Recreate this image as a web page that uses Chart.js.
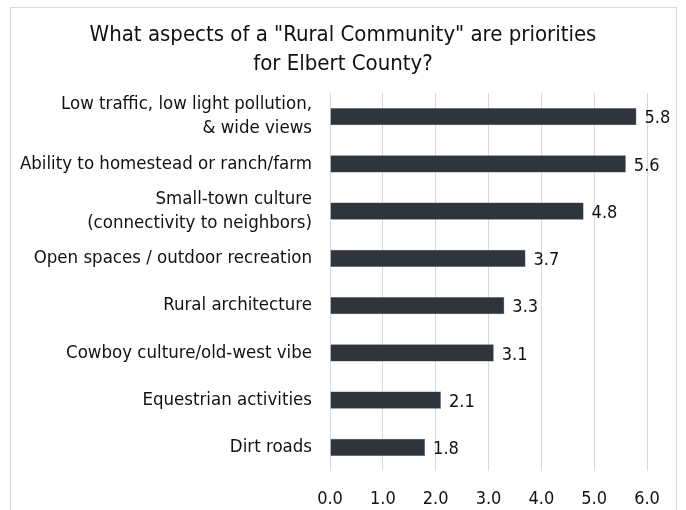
<!DOCTYPE html>
<html>
<head>
<meta charset="utf-8">
<script src="https://cdn.jsdelivr.net/npm/chart.js@4"></script>
<style>
  html,body{margin:0;padding:0;background:#fff;}
  #wrap{width:686px;height:510px;position:relative;}
</style>
</head>
<body>
<div id="wrap"><canvas id="chart" width="686" height="510"></canvas></div>
<script>
const titleLines = ['What aspects of a "Rural Community" are priorities', 'for Elbert County?'];
const categories = [
  ['Low traffic, low light pollution,', '& wide views'],
  'Ability to homestead or ranch/farm',
  ['Small-town culture', '(connectivity to neighbors)'],
  'Open spaces / outdoor recreation',
  'Rural architecture',
  'Cowboy culture/old-west vibe',
  'Equestrian activities',
  'Dirt roads'
];
const scores = [5.8, 5.6, 4.8, 3.7, 3.3, 3.1, 2.1, 1.8];
const xTicks = [0, 1, 2, 3, 4, 5, 6];

const FONT = '"DejaVu Sans Condensed", "DejaVu Sans", sans-serif';
const BAR = '#2f353b';

// light frame around the whole graphic
const frame = {
  id: 'frame',
  beforeDraw(chart){
    const c = chart.ctx;
    c.save();
    c.fillStyle = '#fff';
    c.fillRect(0, 0, chart.width, chart.height);
    c.strokeStyle = '#d9d9d9';
    c.lineWidth = 1;
    c.strokeRect(10.5, 7.5, 666, 520);
    c.restore();
  }
};

// two-line heading, centred on the whole canvas rather than the plot
const heading = {
  id: 'heading',
  afterDraw(chart){
    const c = chart.ctx;
    c.save();
    c.font = '22px ' + FONT;
    c.fillStyle = '#111';
    c.textAlign = 'center';
    c.textBaseline = 'middle';
    titleLines.forEach((t, i) => c.fillText(t, chart.width / 2, 35 + i * 29));
    c.restore();
  }
};

// value text at the end of each bar
const valueLabels = {
  id: 'valueLabels',
  afterDatasetsDraw(chart){
    const c = chart.ctx;
    const meta = chart.getDatasetMeta(0);
    c.save();
    c.font = '18px ' + FONT;
    c.fillStyle = '#111';
    c.textAlign = 'left';
    c.textBaseline = 'middle';
    meta.data.forEach((bar, i) => {
      c.fillText(scores[i].toFixed(1), bar.x + 8, bar.y + 2);
    });
    c.restore();
  }
};

new Chart(document.getElementById('chart'), {
  type: 'bar',
  data: {
    labels: categories,
    datasets: [{
      data: scores,
      backgroundColor: BAR,
      borderColor: '#5a6066',
      borderWidth: 0.5,
      barPercentage: 0.36,
      categoryPercentage: 1
    }]
  },
  options: {
    indexAxis: 'y',
    responsive: false,
    animation: false,
    layout: { padding: { left: 0, right: 39, top: 93, bottom: 2 } },
    plugins: {
      legend: { display: false },
      tooltip: { enabled: false },
      title: { display: false }
    },
    scales: {
      x: {
        min: 0,
        max: 6,
        afterBuildTicks(scale){ scale.ticks = xTicks.map(v => ({ value: v })); },
        afterFit(scale){ scale.height = 37; },
        grid: { color: '#d9d9d9', lineWidth: 1, drawTicks: false },
        border: { display: false },
        ticks: {
          padding: 18,
          color: '#111',
          font: { family: FONT, size: 18 },
          callback: v => Number(v).toFixed(1)
        }
      },
      y: {
        afterFit(scale){ scale.width = 330; },
        grid: { display: false },
        border: { display: false },
        ticks: {
          autoSkip: false,
          padding: 10,
          color: '#111',
          font: { family: FONT, size: 18.5, lineHeight: 1.3 }
        }
      }
    }
  },
  plugins: [frame, heading, valueLabels]
});
</script>
</body>
</html>
